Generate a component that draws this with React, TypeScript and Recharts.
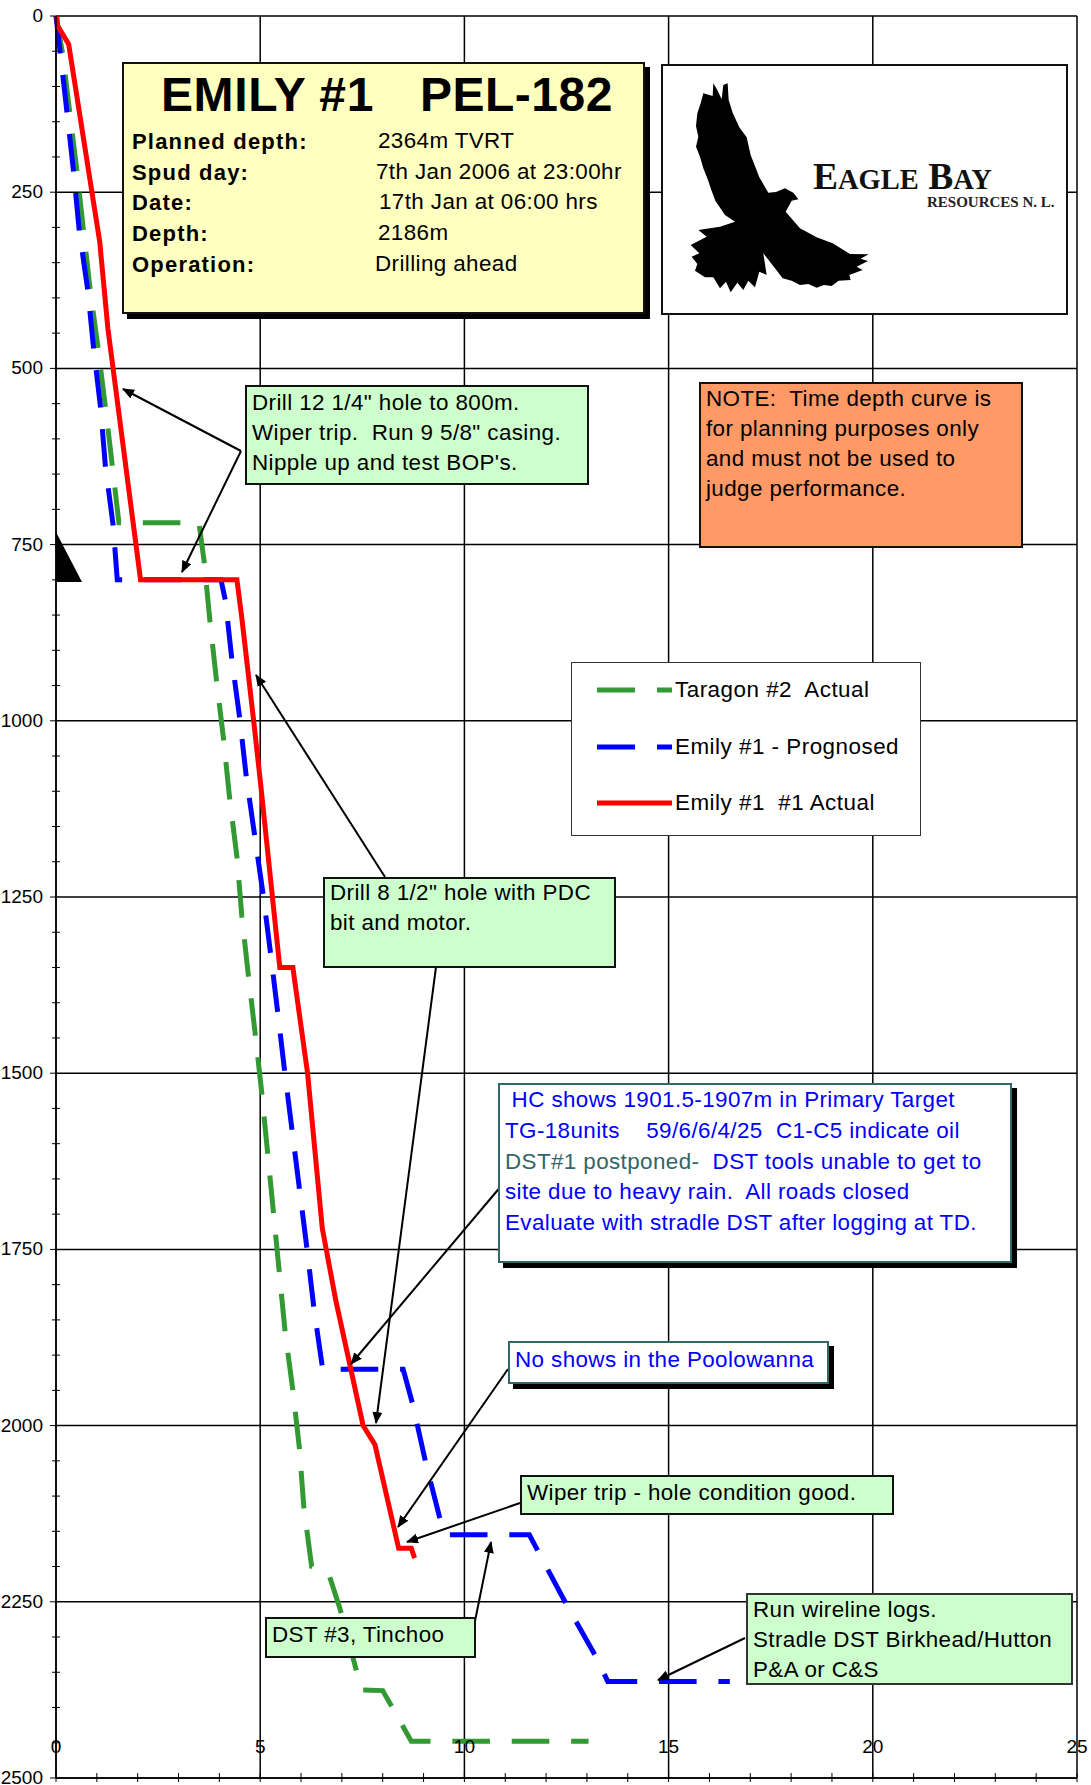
import React from 'react';
import { ComposedChart, Line, XAxis, YAxis, CartesianGrid, Legend } from 'recharts';

const WIDTH = 1091;
const HEIGHT = 1785;
const FONT = '"Liberation Sans", Arial, sans-serif';
const TEXT_SIZE = 22.4;
const DASH = '37.6 21.8';

const xMajor = [0, 5, 10, 15, 20, 25];
const xTicks = [0, 1, 2, 3, 4, 5, 6, 7, 8, 9, 10, 11, 12, 13, 14, 15, 16, 17, 18, 19, 20, 21, 22, 23, 24, 25];
const yMajor = [0, 250, 500, 750, 1000, 1250, 1500, 1750, 2000, 2250, 2500];
const yTicks = [
  0, 50, 100, 150, 200, 250, 300, 350, 400, 450, 500, 550, 600, 650, 700, 750, 800, 850, 900, 950, 1000,
  1050, 1100, 1150, 1200, 1250, 1300, 1350, 1400, 1450, 1500, 1550, 1600, 1650, 1700, 1750, 1800, 1850,
  1900, 1950, 2000, 2050, 2100, 2150, 2200, 2250, 2300, 2350, 2400, 2450, 2500,
];

// days vs depth
const taragonDays = [0, 0.16, 0.51, 0.67, 0.84, 1.03, 1.21, 1.38, 1.54, 3.5, 3.63, 3.77, 3.93, 4.1, 4.25, 4.43, 4.55, 4.71, 4.88, 5.04, 5.61, 5.8, 5.96, 6.07, 6.26, 6.67, 6.95, 7.32, 7.48, 8.0, 8.7, 13.04];
const taragonDepth = [0, 53, 219, 303, 390, 471, 555, 639, 719, 719, 775, 859, 943, 1025, 1109, 1193, 1277, 1361, 1445, 1529, 1867, 1950, 2032, 2117, 2200, 2209, 2259, 2340, 2375, 2376, 2448, 2448];

const prognosedDays = [0, 0.27, 0.43, 0.57, 0.78, 0.92, 1.09, 1.21, 1.4, 1.5, 4.04, 4.15, 4.31, 4.5, 4.66, 4.87, 5.08, 5.26, 5.43, 5.6, 6.15, 6.32, 6.53, 8.5, 8.74, 9.05, 9.41, 9.55, 11.59, 12.5, 13.24, 13.51, 16.5];
const prognosedDepth = [0, 137, 221, 305, 390, 471, 555, 639, 723, 800, 800, 830, 915, 997, 1080, 1165, 1250, 1333, 1414, 1498, 1751, 1836, 1920, 1920, 1971, 2052, 2134, 2155, 2155, 2254, 2330, 2363, 2363];

const actualDays = [0.02, 0.04, 0.31, 1.07, 1.27, 2.07, 4.43, 4.55, 4.84, 5.0, 5.48, 5.8, 6.16, 6.52, 6.85, 7.52, 7.81, 8.39, 8.7, 8.78];
const actualDepth = [0, 14, 40, 320, 443, 800, 800, 854, 1000, 1084, 1350, 1350, 1500, 1720, 1822, 2000, 2027, 2174, 2174, 2188];

const legendLabels = ['Taragon #2  Actual', 'Emily #1 - Prognosed', 'Emily #1  #1 Actual'];
const legendColors = ['#339933', '#0000FF', '#FF0000'];

const zip = (days: number[], depth: number[]) => days.map((x, i) => ({ x, depth: depth[i] }));
const taragon = zip(taragonDays, taragonDepth);
const prognosed = zip(prognosedDays, prognosedDepth);
const actual = zip(actualDays, actualDepth);

const XTick = ({ x, y, payload }: any) => {
  const major = xMajor.includes(payload.value);
  return (
    <g>
      <line x1={x} x2={x} y1={y - 5} y2={y + 4} stroke="#000" strokeWidth={1} />
      {major && (
        <text x={x} y={y - 25} textAnchor="middle" fontSize={19} fontFamily={FONT} fill="#000">{payload.value}</text>
      )}
    </g>
  );
};

const YTick = ({ x, y, payload }: any) => {
  const major = yMajor.includes(payload.value);
  return (
    <g>
      <line x1={major ? x - 6 : x - 4} x2={major ? x : x + 4} y1={y} y2={y} stroke="#000" strokeWidth={1} />
      {major && (
        <text x={x - 13} y={y + 6} textAnchor="end" fontSize={19} fontFamily={FONT} fill="#000">{payload.value}</text>
      )}
    </g>
  );
};

const LegendBox = () => (
  <div style={{ position: 'relative', width: 350, height: 174, background: '#fff', border: '1px solid #333', boxSizing: 'border-box', fontFamily: FONT, fontSize: TEXT_SIZE }}>
    {legendLabels.map((label, i) => (
      <div key={label} style={{ position: 'absolute', left: 0, top: 12 + i * 56.5, height: 30, lineHeight: '30px', whiteSpace: 'nowrap' }}>
        <svg width={104} height={30} style={{ position: 'absolute', left: 0, top: 0 }}>
          <line x1={25} x2={100} y1={15} y2={15} stroke={legendColors[i]} strokeWidth={5} strokeDasharray={i === 2 ? undefined : '38 22'} />
        </svg>
        <span style={{ position: 'absolute', left: 103, whiteSpace: 'pre', letterSpacing: 0.5 }}>{label}</span>
      </div>
    ))}
  </div>
);

const Box = ({ left, top, width, height, fill, border = '#111', shadow, children }: any) => (
  <div style={{
    position: 'absolute', left, top, width, height, background: fill, border: `2px solid ${border}`, boxSizing: 'border-box',
    boxShadow: shadow ? '5px 5px 0 #000' : undefined, overflow: 'visible',
  }}>
    {children}
  </div>
);

const TextLines = ({ lines, x = 5, y = 0, step = 30, size = TEXT_SIZE, color = '#000' }: any) => (
  <>
    {lines.map((line: string, i: number) => (
      <div key={i} style={{ position: 'absolute', left: x, top: y + i * step, whiteSpace: 'pre', fontFamily: FONT, fontSize: size, lineHeight: '30px', color, letterSpacing: 0.4 }}>
        {line}
      </div>
    ))}
  </>
);

const arrows = [
  [241, 451, 123, 389],
  [241, 451, 182, 572],
  [385, 877, 256, 675],
  [436, 967, 376, 1423],
  [502, 1185, 351, 1364],
  [508, 1369, 398, 1527],
  [520, 1503, 407, 1542],
  [474, 1626, 491, 1542],
  [745, 1638, 658, 1680],
];

const titleRows = [
  ['Planned depth:', '2364m TVRT', 378],
  ['Spud day:', '7th Jan 2006 at 23:00hr', 376],
  ['Date:', '17th Jan at 06:00 hrs', 379],
  ['Depth:', '2186m', 378],
  ['Operation:', 'Drilling ahead', 375],
];

// outline of the logo bird, in crop pixels
const birdOutline = 'M220,130 L232,150 L245,178 L250,135 L263,130 L266,180 L278,218 L298,262 L320,292 L332,345 L358,412 L385,458 L408,456 L435,445 L460,458 L475,478 L455,482 L437,515 L480,565 L530,592 L578,610 L630,642 L686,643 L662,656 L684,663 L650,680 L668,690 L628,705 L632,720 L596,722 L575,738 L552,735 L530,743 L505,732 L480,735 L455,722 L428,715 L405,685 L370,640 L380,705 L358,695 L345,742 L325,722 L310,750 L292,728 L272,757 L258,725 L240,745 L220,712 L195,712 L165,692 L172,672 L155,650 L178,640 L152,615 L200,590 L175,570 L240,560 L285,545 L255,525 L226,482 L214,450 L204,420 L190,385 L180,350 L168,320 L175,290 L168,258 L172,220 L182,190 L190,160 L218,168 Z';

export default function App() {
  return (
    <div style={{ position: 'absolute', left: 0, top: 0, width: WIDTH, height: HEIGHT, background: '#fff', overflow: 'hidden' }}>
      <ComposedChart width={WIDTH} height={HEIGHT} margin={{ top: 16, right: 14, bottom: 6, left: 55 }}>
        <CartesianGrid stroke="#000" strokeWidth={1.5} horizontalValues={yMajor} verticalValues={xMajor} />
        <XAxis type="number" dataKey="x" domain={[0, 25]} ticks={xTicks} interval={0} height={1} stroke="#000" strokeWidth={1.5} tickLine={false} tickSize={0} tick={<XTick />} tickMargin={0} allowDuplicatedCategory={false} />
        <YAxis type="number" reversed domain={[0, 2500]} ticks={yTicks} interval={0} width={1} stroke="#000" strokeWidth={1.5} tickLine={false} tickSize={0} tick={<YTick />} tickMargin={0} />
        <Line data={taragon} dataKey="depth" name={legendLabels[0]} stroke={legendColors[0]} strokeWidth={5} strokeDasharray={DASH} strokeLinejoin="miter" dot={false} isAnimationActive={false} />
        <Line data={prognosed} dataKey="depth" name={legendLabels[1]} stroke={legendColors[1]} strokeWidth={5} strokeDasharray={DASH} strokeLinejoin="miter" dot={false} isAnimationActive={false} />
        <Line data={actual} dataKey="depth" name={legendLabels[2]} stroke={legendColors[2]} strokeWidth={5} dot={false} isAnimationActive={false} />
        <Legend content={<LegendBox />} layout="vertical" align="center" verticalAlign="middle" wrapperStyle={{ left: 571, top: 662, width: 350, height: 174, bottom: 'auto' }} />
      </ComposedChart>

      <svg width={WIDTH} height={HEIGHT} style={{ position: 'absolute', left: 0, top: 0, pointerEvents: 'none' }}>
        <defs>
          <marker id="head" markerWidth="12" markerHeight="10" refX="11" refY="5" orient="auto" markerUnits="userSpaceOnUse">
            <path d="M0,0 L12,5 L0,10 Z" fill="#000" />
          </marker>
        </defs>
        <path d="M56,532 L82,582 L56,582 Z" fill="#000" />
        {arrows.map(([x1, y1, x2, y2], i) => (
          <line key={i} x1={x1} y1={y1} x2={x2} y2={y2} stroke="#000" strokeWidth={2} markerEnd="url(#head)" />
        ))}
      </svg>

      {/* title block */}
      <Box left={122} top={62} width={523} height={252} fill="#FFFFC0" shadow>
        <div style={{ position: 'absolute', left: 37, top: 0, fontFamily: FONT, fontWeight: 700, fontSize: 48, lineHeight: '62px', whiteSpace: 'pre', letterSpacing: 0.6 }}>EMILY #1</div>
        <div style={{ position: 'absolute', left: 296, top: 0, fontFamily: FONT, fontWeight: 700, fontSize: 48, lineHeight: '62px', whiteSpace: 'pre', letterSpacing: 0.5 }}>PEL-182</div>
        {titleRows.map(([label, value, vx], i) => (
          <React.Fragment key={i}>
            <div style={{ position: 'absolute', left: 8, top: 63 + i * 30.7, fontFamily: FONT, fontWeight: 700, fontSize: 22, lineHeight: '30px', letterSpacing: 1.2, whiteSpace: 'pre' }}>{label}</div>
            <div style={{ position: 'absolute', left: (vx as number) - 124, top: 62 + i * 30.7, fontFamily: FONT, fontSize: TEXT_SIZE, lineHeight: '30px', letterSpacing: 0.4, whiteSpace: 'pre' }}>{value}</div>
          </React.Fragment>
        ))}
      </Box>

      {/* company logo */}
      <Box left={661} top={64} width={407} height={251} fill="#fff">
        <svg width={406} height={251} style={{ position: 'absolute', left: -2, top: -2, overflow: 'visible' }}>
          <g transform="translate(-21,-24) scale(0.3333)">
            <path d={birdOutline} fill="#000" />
          </g>
          <text x={152} y={125} fontFamily='"Liberation Serif", serif' fontWeight={700} fontSize={37.5} fill="#111">E<tspan fontSize={28.5}>AGLE</tspan> B<tspan fontSize={28.5}>AY</tspan></text>
          <text x={266} y={143} fontFamily='"Liberation Serif", serif' fontWeight={700} fontSize={15} fill="#222">RESOURCES N. L.</text>
        </svg>
      </Box>

      {/* note */}
      <Box left={699} top={382} width={324} height={166} fill="#FF9966">
        <TextLines lines={['NOTE:  Time depth curve is', 'for planning purposes only', 'and must not be used to', 'judge performance.']} y={0} />
      </Box>

      <Box left={245} top={385} width={344} height={100} fill="#CCFFCC">
        <TextLines lines={['Drill 12 1/4" hole to 800m.', 'Wiper trip.  Run 9 5/8" casing.', "Nipple up and test BOP's."]} y={1} />
      </Box>

      <Box left={323} top={877} width={293} height={91} fill="#CCFFCC">
        <TextLines lines={['Drill 8 1/2" hole with PDC', 'bit and motor.']} y={-1} />
      </Box>

      {/* shows */}
      <Box left={498} top={1083} width={514} height={180} fill="#fff" border="#336666" shadow>
        <TextLines lines={[' HC shows 1901.5-1907m in Primary Target', 'TG-18units    59/6/6/4/25  C1-C5 indicate oil']} y={0} step={31} color="#0000FF" />
        <div style={{ position: 'absolute', left: 5, top: 62, whiteSpace: 'pre', fontFamily: FONT, fontSize: TEXT_SIZE, lineHeight: '30px', letterSpacing: 0.4 }}>
          <span style={{ color: '#336666' }}>DST#1 postponed-</span>
          <span style={{ color: '#0000FF' }}>  DST tools unable to get to</span>
        </div>
        <TextLines lines={['site due to heavy rain.  All roads closed', 'Evaluate with stradle DST after logging at TD.']} y={92} step={31} color="#0000FF" />
      </Box>

      <Box left={508} top={1341} width={321} height={43} fill="#fff" border="#336666" shadow>
        <TextLines lines={['No shows in the Poolowanna']} y={2} color="#0000FF" />
      </Box>

      <Box left={520} top={1475} width={374} height={40} fill="#CCFFCC">
        <TextLines lines={['Wiper trip - hole condition good.']} y={1} />
      </Box>

      <Box left={265} top={1617} width={211} height={41} fill="#CCFFCC">
        <TextLines lines={['DST #3, Tinchoo']} y={1} />
      </Box>

      <Box left={746} top={1593} width={327} height={92} fill="#CCFFCC" border="#333">
        <TextLines lines={['Run wireline logs.', 'Stradle DST Birkhead/Hutton', 'P&A or C&S']} y={0} step={30} />
      </Box>
    </div>
  );
}
